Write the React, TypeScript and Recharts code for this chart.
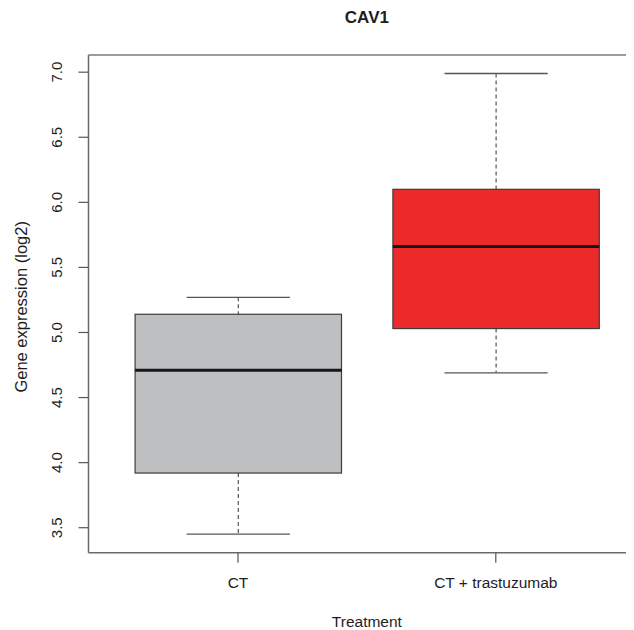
import React from 'react';
import { ComposedChart, Bar, XAxis, YAxis } from 'recharts';

const categories = ['CT', 'CT + trastuzumab'];
const whiskerLow = [3.45, 4.69];
const q1Values = [3.92, 5.03];
const medians = [4.71, 5.66];
const q3Values = [5.14, 6.1];
const whiskerHigh = [5.27, 6.99];
const boxColors = ['#BEBFC1', '#EC2A2A'];
const yTicks = [3.5, 4.0, 4.5, 5.0, 5.5, 6.0, 6.5, 7.0];

const data = categories.map((name, i) => ({
  name,
  low: whiskerLow[i],
  q1: q1Values[i],
  median: medians[i],
  q3: q3Values[i],
  high: whiskerHigh[i],
  box: [q1Values[i], q3Values[i]],
  fill: boxColors[i],
}));

const FONT = '"Liberation Sans", Arial, Helvetica, sans-serif';
const TEXT = '#1e1e1e';

const BoxShape = (props: any) => {
  const { x, y, width, height, payload } = props;
  const top = Math.min(y, y + height);
  const h = Math.abs(height);
  const ppu = h / (payload.q3 - payload.q1);
  const yOf = (v: number) => top + (payload.q3 - v) * ppu;
  const cx = x + width / 2;
  const capHalf = width / 4;
  const wStroke = '#555';
  return (
    <g>
      <line x1={cx} x2={cx} y1={yOf(payload.high)} y2={yOf(payload.q3)} stroke={wStroke} strokeWidth={1.2} strokeDasharray="4 3" />
      <line x1={cx} x2={cx} y1={yOf(payload.q1)} y2={yOf(payload.low)} stroke={wStroke} strokeWidth={1.2} strokeDasharray="4 3" />
      <line x1={cx - capHalf} x2={cx + capHalf} y1={yOf(payload.high)} y2={yOf(payload.high)} stroke={wStroke} strokeWidth={1.3} />
      <line x1={cx - capHalf} x2={cx + capHalf} y1={yOf(payload.low)} y2={yOf(payload.low)} stroke={wStroke} strokeWidth={1.3} />
      <rect x={x} y={top} width={width} height={h} fill={payload.fill} stroke="#3c3c3c" strokeWidth={1.2} />
      <line x1={x} x2={x + width} y1={yOf(payload.median)} y2={yOf(payload.median)} stroke="#161616" strokeWidth={3} />
    </g>
  );
};

const YTick = (props: any) => {
  const { x, y, payload } = props;
  return (
    <text x={x} y={y} transform={`rotate(-90, ${x}, ${y})`} textAnchor="middle" fontFamily={FONT} fontSize={15} fill={TEXT}>
      {Number(payload.value).toFixed(1)}
    </text>
  );
};

const XTick = (props: any) => {
  const { x, y, payload } = props;
  return (
    <text x={x} y={y} dy="0.71em" textAnchor="middle" fontFamily={FONT} fontSize={15.5} fill={TEXT}>
      {payload.value}
    </text>
  );
};

const TitleLabel = (props: any) => {
  const vb = props.viewBox || {};
  const cx = vb.x + vb.width / 2;
  return (
    <text x={cx} y={23} textAnchor="middle" fontFamily={FONT} fontSize={17} fontWeight="bold" fill={TEXT}>
      CAV1
    </text>
  );
};

const XTitle = (props: any) => {
  const vb = props.viewBox || {};
  const cx = vb.x + vb.width / 2;
  return (
    <text x={cx} y={vb.y + vb.height - 3.5} textAnchor="middle" fontFamily={FONT} fontSize={15.5} fill={TEXT}>
      Treatment
    </text>
  );
};

const YTitle = (props: any) => {
  const vb = props.viewBox || {};
  const x = vb.x + 27;
  const y = vb.y + vb.height / 2 + 3;
  return (
    <text x={x} y={y} transform={`rotate(-90, ${x}, ${y})`} textAnchor="middle" fontFamily={FONT} fontSize={16.5} fill={TEXT}>
      Gene expression (log2)
    </text>
  );
};

export default function App() {
  return (
    <div style={{ margin: '-8px 0 0 -8px', width: 634, height: 630, overflow: 'hidden', background: '#fff' }}>
      <ComposedChart width={660} height={630} data={data} margin={{ top: 0, right: 14.7, bottom: 0, left: 0 }}>
        <XAxis
          dataKey="name"
          type="category"
          height={77.3}
          padding={{ left: 20.6, right: 20.6 }}
          tickSize={10}
          tickMargin={14}
          tick={<XTick />}
          tickLine={{ stroke: '#555', strokeWidth: 1.2 }}
          axisLine={{ stroke: '#6a6a6a', strokeWidth: 1.5 }}
          label={{ content: <XTitle /> }}
        />
        <XAxis
          xAxisId="top"
          dataKey="name"
          orientation="top"
          height={55}
          tick={false}
          tickLine={false}
          axisLine={{ stroke: '#7a7a7a', strokeWidth: 1.5 }}
          label={{ content: <TitleLabel /> }}
        />
        <YAxis
          type="number"
          domain={[3.308, 7.132]}
          ticks={yTicks}
          allowDataOverflow
          width={88.5}
          tickSize={10}
          tickMargin={16}
          tick={<YTick />}
          tickLine={{ stroke: '#555', strokeWidth: 1.2 }}
          axisLine={{ stroke: '#6a6a6a', strokeWidth: 1.5 }}
          label={{ content: <YTitle /> }}
        />
        <Bar dataKey="box" barSize={206.4} shape={<BoxShape />} isAnimationActive={false} />
      </ComposedChart>
    </div>
  );
}
